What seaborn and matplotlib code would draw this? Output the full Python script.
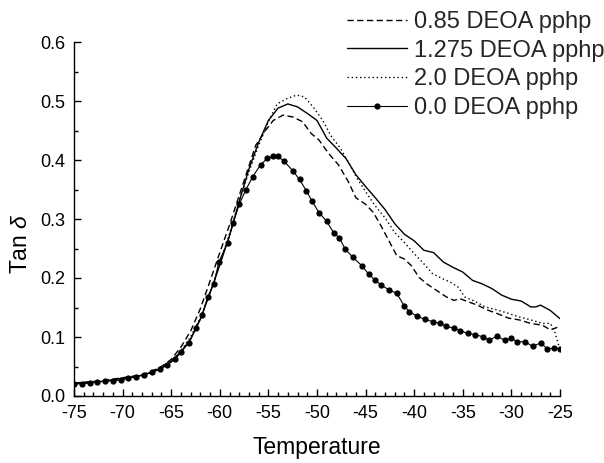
import matplotlib
matplotlib.use("Agg")
import matplotlib.pyplot as plt
import seaborn as sns
import pandas as pd

# ---- data ----
x_085 = [-75, -72, -70, -68, -67, -66, -65, -64, -63, -62, -61, -60, -59, -58, -57,
         -56.3, -55.3, -54.5, -53.5, -52.5, -51.5, -50.6, -49.8, -48.8, -47.8, -46.8,
         -46.0, -45.0, -44.2, -43.4, -42.6, -41.8, -41.0, -40.3, -39.5, -38.7, -37.7,
         -36.7, -35.9, -35.3, -34.5, -33.5, -32.5, -31.5, -30.3, -29.2, -28.0, -26.8,
         -26.0, -25.0]
y_085 = [0.022, 0.026, 0.031, 0.036, 0.042, 0.050, 0.062, 0.083, 0.110, 0.148, 0.195,
         0.243, 0.290, 0.340, 0.390, 0.425, 0.450, 0.467, 0.476, 0.473, 0.465, 0.445,
         0.434, 0.411, 0.392, 0.364, 0.336, 0.325, 0.311, 0.288, 0.263, 0.238, 0.232,
         0.221, 0.201, 0.190, 0.179, 0.168, 0.162, 0.165, 0.160, 0.154, 0.146, 0.140,
         0.132, 0.129, 0.123, 0.120, 0.112, 0.118]

x_1275 = [-75, -72, -70, -68, -67, -66, -65, -64, -63, -62, -61, -60, -59, -58, -57,
          -56, -55, -54, -53, -52, -51, -50, -49, -48, -47, -46, -45, -44, -43, -42,
          -41, -40, -39, -38, -37, -36, -35, -34, -33, -32, -31, -30, -29, -28, -27.5,
          -27, -26, -25]
y_1275 = [0.021, 0.025, 0.030, 0.035, 0.040, 0.047, 0.059, 0.075, 0.096, 0.130, 0.175,
          0.222, 0.272, 0.330, 0.385, 0.430, 0.467, 0.488, 0.495, 0.490, 0.479, 0.467,
          0.437, 0.420, 0.402, 0.375, 0.355, 0.336, 0.316, 0.292, 0.274, 0.263, 0.247,
          0.243, 0.227, 0.218, 0.210, 0.196, 0.190, 0.182, 0.171, 0.164, 0.161, 0.151,
          0.151, 0.154, 0.145, 0.131]

x_20 = [-75, -72, -70, -68, -67, -66, -65, -64, -63, -62, -61, -60, -59, -58, -57,
        -56, -55, -54.1, -53.1, -52.1, -51.3, -50.4, -49.4, -48.6, -47.6, -46.8, -45.8,
        -44.9, -44.0, -43.0, -42.0, -41.0, -40.1, -39.0, -38.1, -37.1, -36.3, -35.5,
        -34.8, -33.7, -32.7, -31.5, -30.3, -29.2, -28.0, -26.8, -26.0, -25.6, -25.1]
y_20 = [0.021, 0.025, 0.030, 0.035, 0.040, 0.047, 0.058, 0.077, 0.100, 0.133, 0.175,
        0.225, 0.275, 0.330, 0.380, 0.425, 0.465, 0.495, 0.504, 0.510, 0.507, 0.490,
        0.467, 0.442, 0.420, 0.397, 0.367, 0.344, 0.322, 0.302, 0.277, 0.260, 0.243,
        0.224, 0.207, 0.199, 0.193, 0.185, 0.168, 0.160, 0.151, 0.146, 0.140, 0.134,
        0.129, 0.123, 0.123, 0.112, 0.084]

x_00 = [-75, -74.2, -73.4, -72.6, -71.8, -71.0, -70.2, -69.4, -68.6, -67.8, -67.0,
        -66.2, -65.4, -64.6, -64.0, -63.2, -62.5, -61.8, -61.25, -60.6, -60.1, -59.2,
        -58.6, -58.0, -57.3, -56.6, -55.8, -55.1, -54.5, -54.0, -53.4, -52.5, -51.8,
        -51.1, -50.5, -49.8, -49.0, -48.3, -47.7, -47.1, -46.3, -45.4, -44.7, -44.0,
        -43.4, -42.6, -41.8, -41.0, -40.5, -39.7, -38.9, -38.1, -37.3, -36.7, -35.9,
        -35.3, -34.5, -33.7, -32.9, -32.3, -31.5, -30.7, -30.0, -29.4, -28.6, -27.8,
        -27.0, -26.3, -25.6, -25.0]
y_00 = [0.020, 0.021, 0.022, 0.024, 0.025, 0.026, 0.027, 0.030, 0.033, 0.036, 0.040,
        0.046, 0.053, 0.062, 0.074, 0.090, 0.115, 0.137, 0.168, 0.190, 0.227, 0.260,
        0.294, 0.325, 0.350, 0.372, 0.392, 0.403, 0.406, 0.406, 0.398, 0.382, 0.367,
        0.348, 0.330, 0.311, 0.296, 0.277, 0.268, 0.249, 0.235, 0.221, 0.207, 0.196,
        0.188, 0.180, 0.174, 0.152, 0.143, 0.135, 0.130, 0.126, 0.123, 0.118, 0.115,
        0.111, 0.106, 0.104, 0.100, 0.095, 0.101, 0.095, 0.098, 0.092, 0.092, 0.084,
        0.090, 0.080, 0.081, 0.080]

labels = ["0.85 DEOA pphp", "1.275 DEOA pphp", "2.0 DEOA pphp", "0.0 DEOA pphp"]
x_ticks = [-75, -70, -65, -60, -55, -50, -45, -40, -35, -30, -25]
y_ticks = [0.0, 0.1, 0.2, 0.3, 0.4, 0.5, 0.6]

# ---- style ----
sns.set_theme(style="ticks")
plt.rcParams["font.family"] = ["Liberation Sans", "DejaVu Sans"]
plt.rcParams["mathtext.fontset"] = "custom"
plt.rcParams["mathtext.it"] = "Liberation Sans:italic"
plt.rcParams["mathtext.rm"] = "Liberation Sans"

fig = plt.figure(figsize=(6.04, 4.63), dpi=100)
ax = fig.add_axes([74 / 604, 1 - 396 / 463, 486 / 604, 354 / 463])

lw = 1.0
sns.lineplot(x=x_085, y=y_085, ax=ax, color="black", lw=lw, label=labels[0],
             estimator=None, sort=False)
ax.lines[-1].set_dashes((4.5, 2.5))
sns.lineplot(x=x_1275, y=y_1275, ax=ax, color="black", lw=lw, label=labels[1],
             estimator=None, sort=False)
sns.lineplot(x=x_20, y=y_20, ax=ax, color="black", lw=lw, label=labels[2],
             estimator=None, sort=False)
ax.lines[-1].set_dashes((1.0, 2.0))
sns.lineplot(x=x_00, y=y_00, ax=ax, color="black", lw=0.8, label=labels[3],
             marker="o", markersize=4.5, markeredgewidth=0, estimator=None, sort=False)

ax.set_xlim(-75, -25)
ax.set_ylim(0, 0.6)
ax.set_xticks(x_ticks)
ax.set_yticks(y_ticks)
ax.set_xticklabels([str(t) for t in x_ticks])
ax.set_yticklabels([f"{t:.1f}" for t in y_ticks])
ax.set_xticks([v for v in range(-75, -24)], minor=True)
ax.set_yticks([0.05, 0.15, 0.25, 0.35, 0.45, 0.55], minor=True)
ax.tick_params(which="major", direction="in", length=5, width=1, colors="black",
               labelsize=13)
ax.tick_params(which="minor", direction="in", length=3, width=1, colors="black")
ax.tick_params(axis="x", which="major", pad=6.5)
ax.tick_params(axis="y", which="major", pad=6.5)
for s in ["top", "right"]:
    ax.spines[s].set_visible(False)
for s in ["left", "bottom"]:
    ax.spines[s].set_color("black")
    ax.spines[s].set_linewidth(1)

ax.set_xlabel("Temperature", fontsize=16.5, color="black")
ax.set_ylabel(r"Tan $\mathit{\delta}$", fontsize=16.5, color="black")
ax.xaxis.set_label_coords(0.5, -0.113)
ax.yaxis.set_label_coords(-0.087, 0.43)

ax.get_legend().remove()
handles, labs = ax.get_legend_handles_labels()
fig.legend(handles, labs, loc="upper left", bbox_to_anchor=(347 / 604, 1 - 11 / 463),
           frameon=False, fontsize=17, handlelength=2.55, handletextpad=0.3,
           labelspacing=0.28, borderpad=0, borderaxespad=0)

fig.savefig("out.png", dpi=100)
